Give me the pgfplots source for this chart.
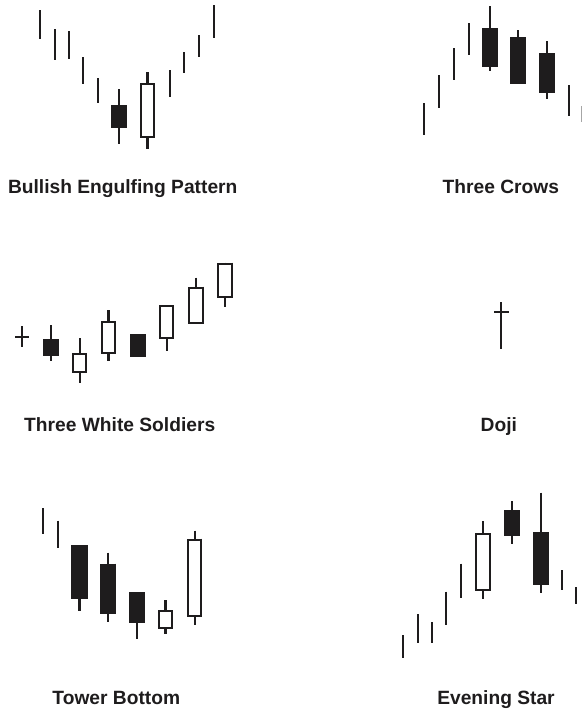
\documentclass[border=0pt]{standalone}
\usepackage{fontspec}
\setmainfont{Liberation Sans}
\usepackage{pgfplots}
\usepackage{pgfplotstable}
\pgfplotsset{compat=1.18}
\definecolor{ink}{HTML}{1E1C1D}

% ---- Bullish Engulfing Pattern ----
\pgfplotstableread{
x y
40.3 10
40.3 39
nan nan
55 29
55 60
nan nan
69.3 31
69.3 59
nan nan
83.3 57
83.3 84
nan nan
97.7 78
97.7 103
nan nan
119 89
119 144
nan nan
147.5 72
147.5 149
nan nan
170 70
170 97
nan nan
184.3 52
184.3 73
nan nan
199 35
199 57
nan nan
213.7 5
213.7 38
}\wicksA
\pgfplotstableread{
x y
119 105
119 128
}\filledA
\pgfplotstableread{
x y yi
147.5 83 85
147.5 138 136
}\openA

% ---- Three Crows ----
\pgfplotstableread{
x y
424.3 103
424.3 135
nan nan
439.3 75
439.3 108
nan nan
453.7 48
453.7 80
nan nan
468.7 23
468.7 55
nan nan
490.2 6
490.2 71
nan nan
518.3 30
518.3 84
nan nan
547 41
547 99
nan nan
568.7 85
568.7 116
}\wicksB
\pgfplotstableread{
x y
490.2 28
490.2 67
nan nan
518.3 37
518.3 84
nan nan
547 53
547 93
}\filledB

% ---- Three White Soldiers ----
\pgfplotstableread{
x y
22 326
22 347.3
nan nan
15 337.3
29.3 337.3
nan nan
51.3 325.3
51.3 361.3
nan nan
79.7 338.3
79.7 383.3
nan nan
108.5 310
108.5 361.3
nan nan
166.7 305
166.7 351
nan nan
196.2 277.7
196.2 324.3
nan nan
225.2 262.7
225.2 306.7
}\wicksC
\pgfplotstableread{
x y
51.3 339.3
51.3 356
nan nan
137.7 334
137.7 356.7
}\filledC
\pgfplotstableread{
x y yi
79.7 353.3 355.3
79.7 372.7 370.7
nan nan nan
108.5 321.3 323.3
108.5 354 352
nan nan nan
166.7 305 307
166.7 338.7 336.7
nan nan nan
196.2 286.7 288.7
196.2 324.3 322.3
nan nan nan
225.2 262.7 264.7
225.2 297.7 295.7
}\openC

% ---- Doji ----
\pgfplotstableread{
x y
500.7 302.3
500.7 349.3
nan nan
494.3 312.3
508.7 312.3
}\wicksD

% ---- Tower Bottom ----
\pgfplotstableread{
x y
43.3 508.3
43.3 534
nan nan
58 520.7
58 547.7
nan nan
79.5 545
79.5 610.7
nan nan
108.2 552.7
108.2 621.7
nan nan
137 592
137 639
nan nan
165.5 600
165.5 634.3
nan nan
194.7 530.7
194.7 624.7
}\wicksE
\pgfplotstableread{
x y
79.5 545
79.5 598.7
nan nan
108.2 563.7
108.2 614
nan nan
137 592
137 623.3
}\filledE
\pgfplotstableread{
x y yi
165.5 610.3 612.3
165.5 629.3 627.3
nan nan nan
194.7 538.7 540.7
194.7 616.7 614.7
}\openE

% ---- Evening Star ----
\pgfplotstableread{
x y
403.3 635
403.3 657.7
nan nan
417.7 614
417.7 643.3
nan nan
431.7 622
431.7 643.3
nan nan
446.3 591.7
446.3 625.3
nan nan
461 563.7
461 598
nan nan
483.2 521.3
483.2 599.3
nan nan
512.3 501
512.3 544.3
nan nan
541 492.7
541 593.3
nan nan
562.3 570
562.3 590
nan nan
576 587.3
576 604.3
}\wicksF
\pgfplotstableread{
x y
512.3 510
512.3 536
nan nan
541 532.3
541 585.3
}\filledF
\pgfplotstableread{
x y yi
483.2 533.3 535.3
483.2 590.7 588.7
}\openF

\begin{document}
\begin{tikzpicture}[
  ttl/.style={font=\fontsize{19.2}{22}\selectfont\bfseries, text=ink, anchor=base, inner sep=0pt},
]
\begin{axis}[
  scale only axis, width=582pt, height=710pt,
  xmin=0, xmax=582, ymin=0, ymax=710, y dir=reverse,
  hide axis, clip=false, unbounded coords=jump,
  wick/.style={ink, line width=2.1pt, line cap=butt, mark=none},
  fbody/.style={ink, line width=16.3pt, line cap=butt, mark=none},
  obody/.style={ink, line width=15.5pt, line cap=butt, mark=none},
  oin/.style={white, line width=11.5pt, line cap=butt, mark=none},
]
% wicks
\addplot[wick] table[x=x,y=y] {\wicksA};
\addplot[wick] table[x=x,y=y] {\wicksB};
\addplot[wick] table[x=x,y=y] {\wicksC};
\addplot[wick] table[x=x,y=y] {\wicksD};
\addplot[wick] table[x=x,y=y] {\wicksE};
\addplot[wick] table[x=x,y=y] {\wicksF};
\addplot[gray!70, line width=1pt, mark=none] coordinates {(581.5,106) (581.5,122)};
% filled bodies
\addplot[fbody] table[x=x,y=y] {\filledA};
\addplot[fbody] table[x=x,y=y] {\filledB};
\addplot[fbody] table[x=x,y=y] {\filledC};
\addplot[fbody] table[x=x,y=y] {\filledE};
\addplot[fbody] table[x=x,y=y] {\filledF};
% open bodies
\addplot[obody] table[x=x,y=y] {\openA};
\addplot[oin] table[x=x,y=yi] {\openA};
\addplot[obody] table[x=x,y=y] {\openC};
\addplot[oin] table[x=x,y=yi] {\openC};
\addplot[obody] table[x=x,y=y] {\openE};
\addplot[oin] table[x=x,y=yi] {\openE};
\addplot[obody] table[x=x,y=y] {\openF};
\addplot[oin] table[x=x,y=yi] {\openF};
% titles
\node[ttl] at (axis cs:122.7,193.3) {Bullish Engulfing Pattern};
\node[ttl] at (axis cs:500.8,193.3) {Three Crows};
\node[ttl] at (axis cs:119.7,431.7) {Three White Soldiers};
\node[ttl] at (axis cs:498.8,431.7) {Doji};
\node[ttl] at (axis cs:116.3,704.5) {Tower Bottom};
\node[ttl] at (axis cs:496,704.5) {Evening Star};
\end{axis}
\pgfresetboundingbox
\useasboundingbox (current axis.south west) rectangle (current axis.north east);
\end{tikzpicture}
\end{document}
